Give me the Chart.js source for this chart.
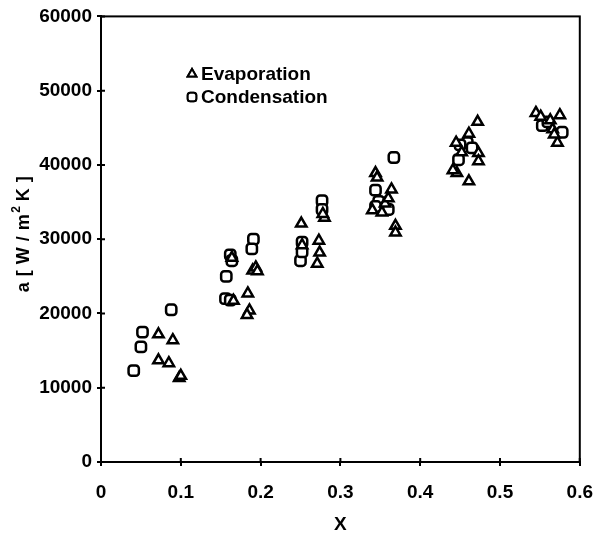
<!DOCTYPE html>
<html>
<head>
<meta charset="utf-8">
<script src="https://cdn.jsdelivr.net/npm/chart.js@4.4.1/dist/chart.umd.min.js"></script>
<style>
  html, body { margin: 0; padding: 0; background: #fff; }
  #wrap { width: 608px; height: 536px; }
</style>
</head>
<body>
<div id="wrap"><canvas id="chart" width="608" height="536"></canvas></div>
<script>
// vapour quality X and heat transfer coefficient
var evapX = [0.072, 0.090, 0.072, 0.085, 0.098, 0.100,
             0.166, 0.164, 0.184, 0.186, 0.183, 0.190, 0.194, 0.196,
             0.251, 0.252, 0.273, 0.274, 0.271, 0.280, 0.278,
             0.344, 0.346, 0.364, 0.340, 0.352, 0.356, 0.369, 0.369, 0.360,
             0.472, 0.461, 0.445, 0.452, 0.473, 0.473, 0.446, 0.461, 0.441,
             0.545, 0.551, 0.575, 0.563, 0.566, 0.572, 0.568];
var evapY = [17200, 16400, 13700, 13300, 11300, 11600,
             21700, 27500, 22700, 20400, 19800, 25800, 26200, 25700,
             32100, 29200, 29800, 28200, 26700, 32900, 33400,
             38900, 38300, 36700, 33900, 33600, 34800, 31800, 30900, 35500,
             45800, 44200, 43000, 41700, 41600, 40500, 38900, 37800, 39300,
             47000, 46500, 46700, 46000, 44800, 43000, 44100];

var condX = [0.088, 0.052, 0.050, 0.041,
             0.191, 0.189, 0.162, 0.164, 0.157, 0.156, 0.162,
             0.277, 0.277, 0.252, 0.250, 0.252,
             0.367, 0.344, 0.348, 0.344, 0.360,
             0.459, 0.448, 0.465, 0.450,
             0.553, 0.578, 0.560];
var condY = [20500, 17500, 15500, 12300,
             30000, 28700, 27900, 27100, 25000, 22000, 21800,
             35200, 34000, 29600, 27100, 28300,
             41000, 36600, 35100, 34400, 34000,
             43000, 40700, 42300, 42700,
             45300, 44400, 45800];

var seriesNames = ["Evaporation", "Condensation"];
var yTitle = ["a [ W / m", "2", " K ]"];
var xTitle = "X";

function toPoints(xs, ys) {
    return xs.map(function(x, i) { return {x: x, y: ys[i]}; });
}

var FONT = "'Liberation Sans', Arial, sans-serif";

// frame, inner tick marks, y title with superscript, legend inside the plot
var decor = {
    id: "decor",
    afterDraw: function(chart) {
        var ctx = chart.ctx;
        var a = chart.chartArea;
        var sx = chart.scales.x, sy = chart.scales.y;
        ctx.save();
        ctx.strokeStyle = "#000";
        ctx.lineWidth = 2;
        ctx.strokeRect(a.left, a.top, a.right - a.left, a.bottom - a.top);

        ctx.beginPath();
        sx.ticks.forEach(function(t) {
            var p = sx.getPixelForValue(t.value);
            ctx.moveTo(p, a.bottom);
            ctx.lineTo(p, a.bottom - 4);
        });
        sy.ticks.forEach(function(t) {
            var p = sy.getPixelForValue(t.value);
            ctx.moveTo(a.left, p);
            ctx.lineTo(a.left + 4, p);
        });
        ctx.stroke();

        // y axis title
        ctx.translate(24, 234);
        ctx.rotate(-Math.PI / 2);
        ctx.letterSpacing = "0.5px";
        ctx.fillStyle = "#000";
        ctx.textBaseline = "middle";
        ctx.font = "bold 18px " + FONT;
        var w0 = ctx.measureText(yTitle[0]).width;
        var w2 = ctx.measureText(yTitle[2]).width;
        ctx.font = "bold 12px " + FONT;
        var w1 = ctx.measureText(yTitle[1]).width;
        var x0 = -(w0 + w1 + w2) / 2;
        ctx.font = "bold 18px " + FONT;
        ctx.textAlign = "left";
        ctx.fillText(yTitle[0], x0, 0);
        ctx.font = "bold 12px " + FONT;
        ctx.fillText(yTitle[1], x0 + w0 + 1, -7);
        ctx.font = "bold 18px " + FONT;
        ctx.fillText(yTitle[2], x0 + w0 + w1, 0);
        ctx.setTransform(1, 0, 0, 1, 0, 0);
        ctx.letterSpacing = "0px";

        // legend
        var rows = [74, 97];
        chart.data.datasets.forEach(function(ds, i) {
            Chart.helpers.drawPoint(ctx, {
                pointStyle: ds.pointStyle, radius: 5, borderWidth: 2
            }, 192, rows[i]);
            ctx.lineWidth = 2;
            ctx.strokeStyle = "#000";
            ctx.fillStyle = "#fff";
            ctx.fill();
            ctx.stroke();
            ctx.fillStyle = "#000";
            ctx.font = "bold 19px " + FONT;
            ctx.textAlign = "left";
            ctx.textBaseline = "middle";
            ctx.fillText(ds.label, 201, rows[i] + 1);
        });
        ctx.restore();
    }
};

var ctx = document.getElementById("chart").getContext("2d");
new Chart(ctx, {
    type: "scatter",
    data: {
        datasets: [{
            label: seriesNames[0],
            data: toPoints(evapX, evapY),
            pointStyle: "triangle",
            pointRadius: 6,
            borderWidth: 2.5,
            borderColor: "#000",
            backgroundColor: "#fff"
        }, {
            label: seriesNames[1],
            data: toPoints(condX, condY),
            pointStyle: "rectRounded",
            pointRadius: 6,
            borderWidth: 2.5,
            borderColor: "#000",
            backgroundColor: "#fff"
        }]
    },
    options: {
        responsive: false,
        animation: false,
        layout: { padding: { top: 15, right: 9, left: 0, bottom: 0 } },
        plugins: {
            legend: { display: false },
            tooltip: { enabled: false }
        },
        scales: {
            x: {
                type: "linear",
                min: 0,
                max: 0.6,
                afterFit: function(s) { s.height = 74; },
                ticks: {
                    stepSize: 0.1,
                    color: "#000",
                    padding: 15,
                    maxRotation: 0,
                    font: { family: FONT, size: 19, weight: "bold" },
                    callback: function(v) { return String(Math.round(v * 10) / 10); }
                },
                grid: { drawOnChartArea: false, color: "#000", lineWidth: 2, tickLength: 4 },
                border: { color: "#000", width: 2 },
                title: {
                    display: true,
                    text: xTitle,
                    color: "#000",
                    font: { family: FONT, size: 19, weight: "bold" },
                    padding: { top: 0, bottom: 0 }
                }
            },
            y: {
                min: 0,
                max: 60000,
                afterFit: function(s) { s.width = 101; },
                ticks: {
                    stepSize: 10000,
                    color: "#000",
                    padding: 5,
                    font: { family: FONT, size: 19, weight: "bold" },
                    callback: function(v) { return String(v); }
                },
                grid: { drawOnChartArea: false, color: "#000", lineWidth: 2, tickLength: 4 },
                border: { color: "#000", width: 2 }
            }
        }
    },
    plugins: [decor]
});
</script>
</body>
</html>
